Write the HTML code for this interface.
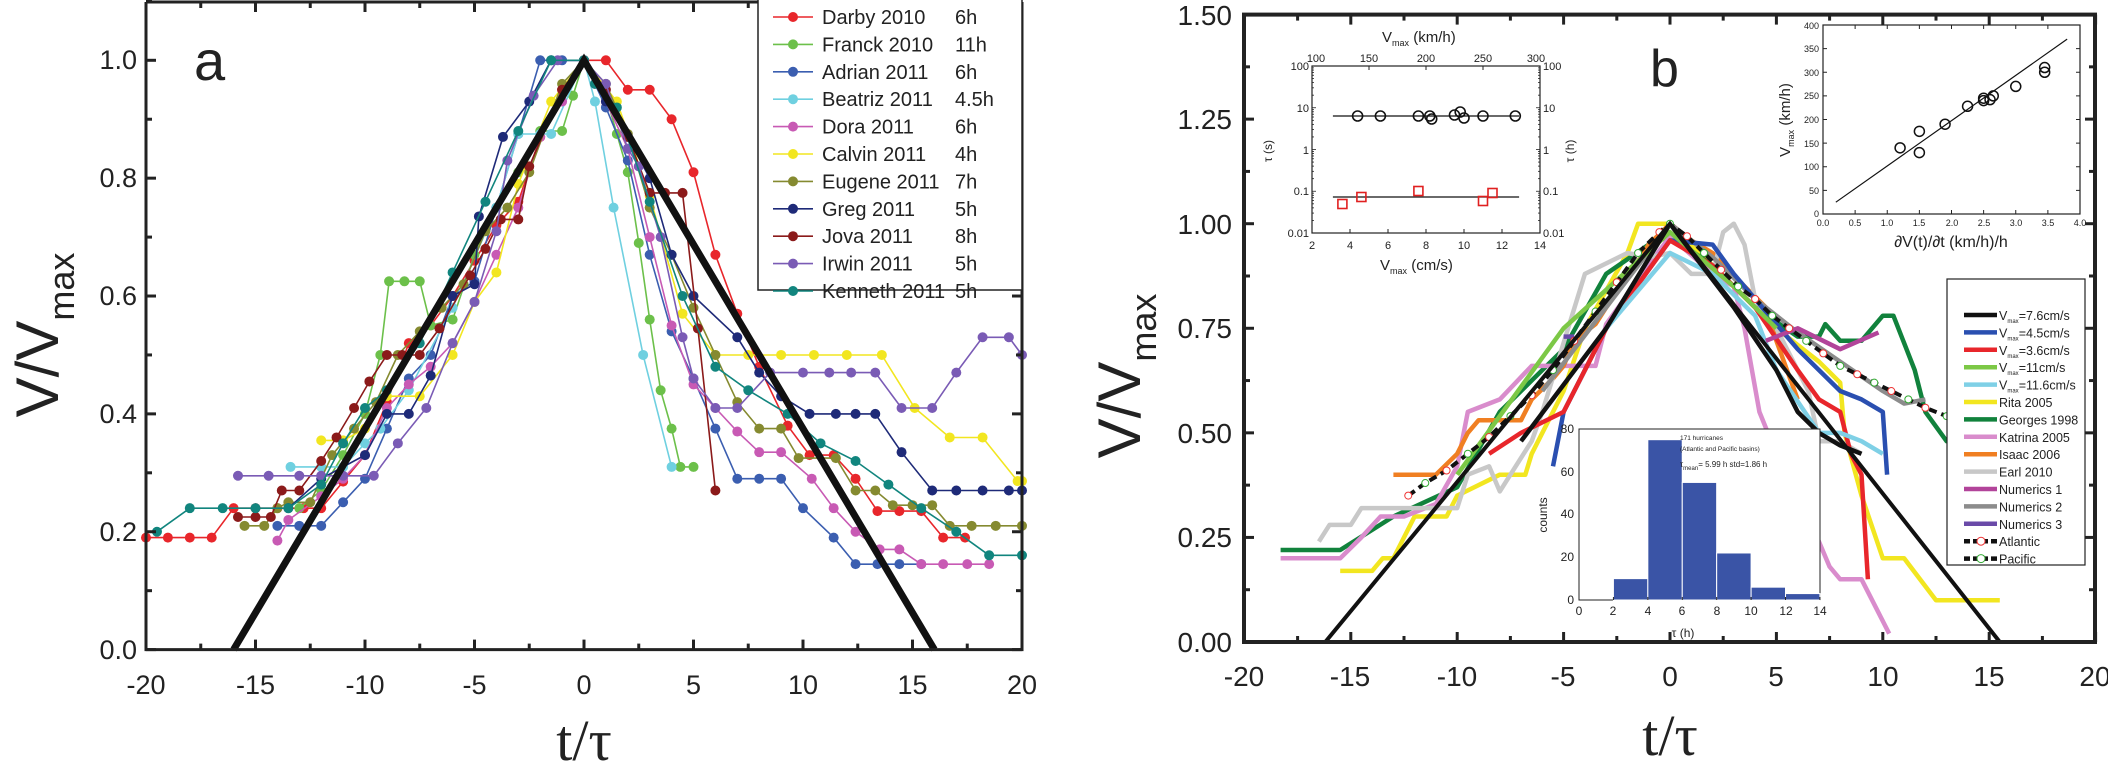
<!DOCTYPE html>
<html><head><meta charset="utf-8"><style>
html,body{margin:0;padding:0;background:#fff;}
svg{display:block;}
text{font-family:"Liberation Sans",sans-serif;fill:#222;}
.serif{font-family:"Liberation Serif",serif;}
</style></head><body>
<svg id="s" width="2108" height="763" viewBox="0 0 2108 763" xmlns="http://www.w3.org/2000/svg">
<rect width="2108" height="763" fill="#fff"/>
<g id="a-series"></g>
<g id="b-series"></g>
<!-- Panel a frame -->
<g stroke="#222" stroke-width="3" fill="none">
<polyline points="146,2 146,649.6 1022,649.6 1022,2"/>
<line x1="146" y1="2" x2="1022" y2="2"/>
</g>
<g id="a-ticks" stroke="#222" stroke-width="3"></g>
<g font-size="27" text-anchor="end">
<text x="137" y="659">0.0</text><text x="137" y="541">0.2</text><text x="137" y="423">0.4</text>
<text x="137" y="305">0.6</text><text x="137" y="187">0.8</text><text x="137" y="69">1.0</text>
</g>
<g font-size="27" text-anchor="middle">
<text x="146" y="694">-20</text><text x="255.5" y="694">-15</text><text x="365" y="694">-10</text>
<text x="474.5" y="694">-5</text><text x="584" y="694">0</text><text x="693.5" y="694">5</text>
<text x="803" y="694">10</text><text x="912.5" y="694">15</text><text x="1022" y="694">20</text>
</g>
<text x="194" y="80" font-size="56">a</text>
<text class="serif" x="584" y="760" font-size="58" text-anchor="middle">t/τ</text>
<g transform="translate(58,335) rotate(-90)"><text font-size="60" text-anchor="middle">V/V<tspan font-size="36" dy="16">max</tspan></text></g>
<!-- legend a -->
<rect x="758" y="-2" width="264" height="292" fill="#fff" stroke="#222" stroke-width="1.5"/>
<g id="a-legend" font-size="20"></g>

<!-- Panel b frame -->
<g stroke="#222" stroke-width="4" fill="none">
<rect x="1244" y="14.6" width="851" height="627.4"/>
</g>
<g id="b-ticks" stroke="#222" stroke-width="3"></g>
<g font-size="28" text-anchor="end">
<text x="1232" y="652">0.00</text><text x="1232" y="547">0.25</text><text x="1232" y="443">0.50</text>
<text x="1232" y="338">0.75</text><text x="1232" y="234">1.00</text><text x="1232" y="129">1.25</text><text x="1232" y="25">1.50</text>
</g>
<g font-size="28" text-anchor="middle">
<text x="1244" y="686">-20</text><text x="1350" y="686">-15</text><text x="1457" y="686">-10</text>
<text x="1563" y="686">-5</text><text x="1670" y="686">0</text><text x="1776" y="686">5</text>
<text x="1883" y="686">10</text><text x="1989" y="686">15</text><text x="2095" y="686">20</text>
</g>
<text x="1650" y="86" font-size="52">b</text>
<text class="serif" x="1670" y="755" font-size="58" text-anchor="middle">t/τ</text>
<g transform="translate(1140,376) rotate(-90)"><text font-size="60" text-anchor="middle">V/V<tspan font-size="36" dy="16">max</tspan></text></g>

<!-- inset top-left -->
<rect x="1312" y="66" width="228" height="167" fill="#fff" stroke="#222" stroke-width="1.2"/>
<g id="inset1"></g>
<g font-size="11" text-anchor="middle">
<text x="1316" y="62">100</text><text x="1369" y="62">150</text>
<text x="1426" y="62">200</text><text x="1483" y="62">250</text><text x="1536" y="62">300</text>
</g>
<g font-size="11" text-anchor="end">
<text x="1309" y="70">100</text><text x="1309" y="112">10</text><text x="1309" y="154">1</text><text x="1309" y="195">0.1</text><text x="1309" y="237">0.01</text>
</g>
<g font-size="11">
<text x="1543" y="70">100</text><text x="1543" y="112">10</text><text x="1543" y="154">1</text><text x="1543" y="195">0.1</text><text x="1543" y="237">0.01</text>
</g>
<g font-size="11" text-anchor="middle">
<text x="1312" y="249">2</text><text x="1350" y="249">4</text><text x="1388" y="249">6</text><text x="1426" y="249">8</text>
<text x="1464" y="249">10</text><text x="1502" y="249">12</text><text x="1540" y="249">14</text>
</g>
<text x="1382" y="42" font-size="15">V<tspan font-size="9" dy="4">max</tspan><tspan dy="-4"> (km/h)</tspan></text>
<text x="1380" y="270" font-size="15">V<tspan font-size="9" dy="4">max</tspan><tspan dy="-4"> (cm/s)</tspan></text>
<g transform="translate(1272,151) rotate(-90)"><text font-size="12" text-anchor="middle">τ (s)</text></g>
<g transform="translate(1574,151) rotate(-90)"><text font-size="12" text-anchor="middle">τ (h)</text></g>

<!-- inset top-right -->
<rect x="1823" y="25" width="257" height="189" fill="#fff" stroke="#222" stroke-width="1.2"/>
<g id="inset2"></g>
<g font-size="9" text-anchor="end">
<text x="1819" y="217">0</text><text x="1819" y="194">50</text><text x="1819" y="170">100</text><text x="1819" y="147">150</text>
<text x="1819" y="123">200</text><text x="1819" y="99">250</text><text x="1819" y="76">300</text><text x="1819" y="52">350</text><text x="1819" y="29">400</text>
</g>
<g font-size="9" text-anchor="middle">
<text x="1823" y="226">0.0</text><text x="1855" y="226">0.5</text><text x="1887" y="226">1.0</text><text x="1919" y="226">1.5</text>
<text x="1952" y="226">2.0</text><text x="1984" y="226">2.5</text><text x="2016" y="226">3.0</text><text x="2048" y="226">3.5</text><text x="2080" y="226">4.0</text>
</g>
<text x="1951" y="247" font-size="16" text-anchor="middle">∂V(t)/∂t    (km/h)/h</text>
<g transform="translate(1790,120) rotate(-90)"><text font-size="15" text-anchor="middle">V<tspan font-size="9" dy="4">max</tspan><tspan dy="-4">  (km/h)</tspan></text></g>

<!-- legend b -->
<rect x="1947" y="279" width="138" height="286" fill="#fff" stroke="#222" stroke-width="1.2"/>
<g id="b-legend" font-size="12.5"></g>

<!-- histogram inset -->
<rect x="1579" y="429" width="241" height="171" fill="#fff" stroke="#222" stroke-width="1"/>
<g id="hist"></g>
<g font-size="12" text-anchor="end">
<text x="1574" y="604">0</text><text x="1574" y="561">20</text><text x="1574" y="518">40</text><text x="1574" y="476">60</text><text x="1574" y="433">80</text>
</g>
<g font-size="12" text-anchor="middle">
<text x="1579" y="615">0</text><text x="1613" y="615">2</text><text x="1648" y="615">4</text><text x="1682" y="615">6</text>
<text x="1717" y="615">8</text><text x="1751" y="615">10</text><text x="1786" y="615">12</text><text x="1820" y="615">14</text>
</g>
<text x="1683" y="637" font-size="12" text-anchor="middle">τ (h)</text>
<g transform="translate(1547,515) rotate(-90)"><text font-size="12" text-anchor="middle">counts</text></g>
<text x="1680" y="440" font-size="6.5">171 hurricanes</text>
<text x="1680" y="451" font-size="6.5">(Atlantic and Pacific basins)</text>
<text x="1680" y="467" font-size="8">τ<tspan font-size="6" dy="3">mean</tspan><tspan dy="-3">= 5.99 h    std=1.86 h</tspan></text>
</svg>
<script>
var NS="http://www.w3.org/2000/svg";
function el(p,t,a){var e=document.createElementNS(NS,t);for(var k in a)e.setAttribute(k,a[k]);p.appendChild(e);return e;}
function ax(x){return 584+x*21.9} function ay(y){return 649.6-y*589.3}
function bx(x){return 1670+x*21.28} function by(y){return 642-y*418.3}
function pts(d,fx,fy){return d.map(function(p){return fx(p[0]).toFixed(1)+","+fy(p[1]).toFixed(1)}).join(" ")}
var A=[
["Darby 2010","6h","#e8262b",[[-20,.19],[-19,.19],[-18,.19],[-17,.19],[-16,.24],[-15,.24],[-14,.24],[-12.8,.24],[-12,.24],[-11,.285],[-10,.33],[-9,.42],[-8,.52],[-7,.55],[-6,.6],[-5,.66],[-4,.72],[-3,.76],[-2,.87],[-1,.95],[0,1],[1,1],[2,.95],[3,.95],[4,.9],[5,.81],[6,.67],[7,.57],[8,.48],[9.3,.38],[10.3,.33],[11.4,.33],[12.4,.29],[13.4,.235],[14.4,.235],[15.4,.235],[16.4,.19],[17.4,.19]]],
["Franck 2010","11h","#6cc04a",[[-13,.24],[-12,.27],[-11,.33],[-10,.4],[-9.3,.5],[-8.9,.625],[-8.2,.625],[-7.5,.625],[-7,.55],[-6,.56],[-5,.67],[-4,.75],[-3,.81],[-2,.88],[-1,.88],[-.5,.94],[0,1],[1,.94],[1.5,.875],[2,.81],[2.5,.69],[3,.56],[3.5,.44],[4,.375],[4.4,.31],[5,.31]]],
["Adrian 2011","6h","#3b5eb0",[[-14,.21],[-13,.21],[-12,.21],[-11,.25],[-10,.29],[-9,.375],[-8,.46],[-7,.5],[-6,.6],[-5,.625],[-4,.75],[-3,.875],[-2,1],[-1,1],[0,1],[1,.92],[2,.83],[3,.67],[4,.54],[5,.46],[6,.375],[7,.29],[8,.29],[9,.29],[10,.24],[11.4,.19],[12.4,.145],[13.4,.145],[14.4,.145],[15.4,.145]]],
["Beatriz 2011","4.5h","#6fd0e0",[[-13.4,.31],[-12,.31],[-11,.31],[-10,.35],[-9.3,.375],[-8,.44],[-6,.58],[-4,.75],[-3,.875],[-2,.875],[-1.5,.875],[0,1],[.5,.93],[1.35,.75],[2.7,.5],[4,.31]]],
["Dora 2011","6h","#c85ab4",[[-14,.185],[-13.5,.22],[-12,.26],[-11,.29],[-10,.33],[-9,.41],[-8,.45],[-7,.48],[-6,.52],[-5,.59],[-4,.67],[-3,.75],[-2,.87],[-1,.93],[0,1],[.5,.96],[1,.93],[2,.85],[3,.7],[4,.55],[5,.45],[6,.41],[7,.37],[8,.335],[9,.335],[10.4,.29],[11.4,.24],[12.4,.2],[13.5,.17],[14.4,.17],[15.4,.145],[16.4,.145],[17.5,.145],[18.5,.145]]],
["Calvin 2011","4h","#f2e620",[[-12,.355],[-11,.355],[-10,.375],[-9,.43],[-7.5,.43],[-6,.5],[-5,.59],[-4,.64],[-3,.79],[-1.5,.93],[0,1],[1.5,.93],[3,.77],[4.5,.57],[6,.5],[7.5,.5],[9,.5],[10.5,.5],[12,.5],[13.6,.5],[15.1,.41],[16.7,.36],[18.2,.36],[19.8,.286],[20,.286]]],
["Eugene 2011","7h","#858a30",[[-15.5,.21],[-14.6,.21],[-14,.24],[-13.5,.25],[-12.5,.25],[-11.5,.33],[-10.5,.375],[-9.5,.42],[-8.5,.5],[-7.5,.54],[-6.5,.58],[-5.5,.62],[-4.5,.71],[-3.5,.75],[-2.5,.81],[-1,.96],[0,1],[1,.96],[2,.875],[3,.75],[4,.67],[5,.58],[6,.5],[7,.42],[8,.375],[9,.375],[9.8,.325],[11.5,.325],[12.4,.27],[13.3,.27],[14.1,.245],[15,.245],[15.9,.245],[16.7,.21],[17.7,.21],[18.8,.21],[20,.21]]],
["Greg 2011","5h","#1e2a78",[[-13.5,.24],[-12,.29],[-10,.33],[-9,.4],[-8,.4],[-7,.465],[-6,.6],[-5,.62],[-4.8,.735],[-3.7,.87],[-2.5,.93],[-1.5,1],[0,1],[1,.93],[2,.87],[3,.8],[4,.67],[5,.6],[7,.53],[8,.47],[9,.43],[10.3,.4],[11.5,.4],[12.4,.4],[13.3,.4],[14.5,.335],[15.9,.27],[17,.27],[18.2,.27],[19.4,.27],[20,.27]]],
["Jova 2011","8h","#8b1a1a",[[-15.8,.225],[-15,.225],[-14.3,.225],[-13.8,.27],[-13,.27],[-12,.32],[-11.3,.36],[-10.5,.41],[-9.8,.455],[-9,.5],[-8.3,.5],[-7.5,.5],[-6.6,.545],[-5.2,.635],[-4.5,.68],[-3.8,.73],[-3,.73],[-2.5,.82],[-1,.95],[0,1],[1,.95],[2,.87],[3,.775],[3.7,.775],[4.5,.775],[5.2,.545],[6,.27]]],
["Irwin 2011","5h","#7a5bb5",[[-15.8,.295],[-14.4,.295],[-13,.295],[-12,.295],[-11,.295],[-9.6,.295],[-8.5,.35],[-7.2,.41],[-6,.52],[-5,.59],[-4,.71],[-3.5,.83],[-2.3,.94],[-1.2,1],[0,1],[1,.96],[2,.85],[2.5,.82],[3.5,.7],[4.5,.53],[5,.46],[6,.41],[7,.41],[8.5,.47],[10,.47],[11.2,.47],[12.2,.47],[13.3,.47],[14.5,.41],[15.9,.41],[17,.47],[18.2,.53],[19.4,.53],[20,.5]]],
["Kenneth 2011","5h","#11857e",[[-19.5,.2],[-18,.24],[-16.5,.24],[-15,.24],[-13.5,.24],[-12,.28],[-11,.35],[-10,.41],[-9,.44],[-7.5,.52],[-6,.64],[-4.5,.76],[-3,.88],[-1.5,1],[0,1],[.5,.96],[1.5,.92],[3,.76],[4.5,.6],[6,.48],[7.5,.44],[9.3,.4],[10.8,.35],[12.4,.32],[13.9,.28],[15.4,.24],[17,.2],[18.5,.16],[20,.16]]]
];
var ga=document.getElementById("a-series");
A.forEach(function(s){
  el(ga,"polyline",{points:pts(s[3],ax,ay),fill:"none",stroke:s[2],"stroke-width":1.6});
  s[3].forEach(function(p){el(ga,"circle",{cx:ax(p[0]),cy:ay(p[1]),r:5,fill:s[2]});});
});
el(ga,"polyline",{points:pts([[-16,0],[0,1],[16,0]],ax,ay),fill:"none",stroke:"#111","stroke-width":7,"stroke-linejoin":"miter"});
var gl=document.getElementById("a-legend");
A.forEach(function(s,i){var y=17+i*27.4;
  el(gl,"line",{x1:773,y1:y,x2:813,y2:y,stroke:s[2],"stroke-width":1.6});
  el(gl,"circle",{cx:793,cy:y,r:5,fill:s[2]});
  var t=el(gl,"text",{x:822,y:y+7});t.textContent=s[0];
  var h=el(gl,"text",{x:955,y:y+7});h.textContent=s[1];
});
var ta=document.getElementById("a-ticks");
for(var x=-20;x<=20;x+=2.5){var L=(x%5==0)?10:6;el(ta,"line",{x1:ax(x),y1:649.6,x2:ax(x),y2:649.6-L});el(ta,"line",{x1:ax(x),y1:2,x2:ax(x),y2:2+L});}
for(var y=0;y<=1.1;y+=0.1){var L=(Math.round(y*10)%2==0)?10:6;el(ta,"line",{x1:146,y1:ay(y),x2:146+L,y2:ay(y)});el(ta,"line",{x1:1022,y1:ay(y),x2:1022-L,y2:ay(y)});}
var B=[
["Rita 2005","#f2e620",[[-15.5,.17],[-14,.17],[-13.5,.2],[-13,.2],[-12.5,.25],[-12,.3],[-10.5,.3],[-10,.35],[-8,.4],[-6.8,.4],[-6.5,.45],[-5,.6],[-4,.75],[-2,.93],[-1.5,1],[0,1],[1,.95],[3,.85],[5,.75],[7,.67],[8,.62],[8.2,.5],[9,.35],[10,.2],[11,.2],[12.5,.1],[15.5,.1]]],
["Georges 1998","#11823c",[[-18.3,.22],[-15.5,.22],[-13,.3],[-10,.37],[-8,.55],[-7,.6],[-5,.7],[-3,.88],[-1,.95],[0,.97],[2,.9],[4,.8],[6,.73],[7,.73],[7.3,.76],[8,.72],[9,.72],[10,.78],[10.5,.78],[11.5,.65],[12,.55],[13,.48],[14,.48]]],
["Katrina 2005","#d98ccc",[[-18.3,.2],[-15.5,.2],[-14.5,.25],[-13.6,.3],[-12.5,.3],[-11,.33],[-10,.42],[-9.5,.55],[-8,.58],[-6.5,.66],[-3.5,.66],[-3,.76],[-2,.83],[-1,.9],[0,.97],[2,.88],[3,.85],[3.5,.75],[4.2,.55],[5,.45],[6,.37],[6.5,.3],[7.5,.18],[8,.15],[9,.15],[10.3,.02]]],
["Isaac 2006","#f07f22",[[-13,.4],[-11,.4],[-10,.45],[-9.5,.5],[-9,.53],[-7,.53],[-6.5,.58],[-5.5,.63],[-5,.66],[-4.5,.72],[-3.5,.76],[-3,.8],[-2,.87],[-1,.95],[0,1],[1,.96],[2,.93],[2.5,.9],[3.5,.85],[4.5,.8],[5,.72],[5.5,.65],[6,.58]]],
["Earl 2010","#c8c8c8",[[-16.5,.24],[-16,.28],[-15,.28],[-14.5,.32],[-12.5,.32],[-10,.32],[-9.5,.4],[-8.5,.42],[-8,.36],[-7,.44],[-6.5,.48],[-6,.55],[-4,.88],[-2,.93],[-1,.92],[0,.93],[1,.88],[2,.88],[2.5,.98],[3,1],[3.5,.95],[4,.82],[5,.75],[6.5,.6],[7,.48],[8,.48],[9,.45]]],
["Numerics 2","#8c8c8c",[[-6,.6],[-3,.8],[0,1],[2,.92],[4,.82],[6,.74],[8,.67],[10,.6],[11,.57],[12,.58]]],
["V4.5","#2a4fb0",[[-5.5,.42],[-5,.55],[-3,.75],[0,.96],[2,.95],[3,.88],[4,.82],[6,.7],[8,.6],[9,.58],[10,.55],[10.2,.4]]],
["V3.6","#e8262b",[[-8.5,.45],[-7,.5],[-5,.55],[-3,.75],[0,.96],[2,.9],[4,.8],[6,.65],[7,.58],[8,.55],[8.5,.45],[9,.4],[9.3,.15]]],
["V11.6","#7fd0e6",[[-3,.75],[0,.93],[2,.88],[4,.78],[5,.65],[7,.5],[8,.5],[9,.48],[10,.45]]],
["V11","#7cc846",[[-10,.4],[-5,.75],[0,.98],[3,.85],[5,.75]]],
["V7.6","#111",[[-7,.48],[-3,.75],[0,1],[3,.8],[5,.65],[6,.55],[7,.5],[8,.47],[9,.45]]],
["Numerics 1","#b2449a",[[4.5,.72],[6,.75],[8,.7],[9.8,.74]]],
["Numerics 3","#6a4aa8",[[-5,.73],[-4.5,.73]]]
];
var gb=document.getElementById("b-series");
B.forEach(function(s){el(gb,"polyline",{points:pts(s[2],bx,by),fill:"none",stroke:s[1],"stroke-width":4.5,"stroke-linejoin":"round"});});
var atl=[[-12.3,.35],[-11.5,.38],[-10.5,.41],[-9.5,.45],[-8.5,.49],[-7.5,.54],[-6.5,.59],[-5.5,.65],[-4.5,.72],[-3.5,.79],[-2.5,.86],[-1.5,.93],[-.5,.98],[0,1],[.8,.97],[1.6,.93],[2.4,.89],[3.2,.85],[4,.82],[4.8,.78],[5.6,.75],[6.4,.72],[7.2,.69],[8,.66],[8.8,.64],[9.6,.62],[10.4,.6],[11.2,.58],[12,.56],[13,.54]];
el(gb,"polyline",{points:pts(atl,bx,by),fill:"none",stroke:"#111","stroke-width":4,"stroke-dasharray":"8,5"});
atl.forEach(function(p,i){el(gb,"circle",{cx:bx(p[0]),cy:by(p[1]),r:3.5,fill:"#fff",stroke:i%2?"#3a3":"#e33","stroke-width":1});});
el(gb,"polyline",{points:pts([[-16.2,0],[0,1],[15.5,0]],bx,by),fill:"none",stroke:"#111","stroke-width":4});
var tb=document.getElementById("b-ticks");
for(var x=-20;x<=20;x+=2.5){var L=(x%5==0)?10:6;el(tb,"line",{x1:bx(x),y1:642,x2:bx(x),y2:642-L});el(tb,"line",{x1:bx(x),y1:14.6,x2:bx(x),y2:14.6+L});}
for(var y=0;y<=1.5;y+=0.125){var L=(Math.round(y*8)%2==0)?10:6;el(tb,"line",{x1:1244,y1:by(y),x2:1244+L,y2:by(y)});el(tb,"line",{x1:2095,y1:by(y),x2:2095-L,y2:by(y)});}
var LB=[["V","=7.6cm/s","#111"],["V","=4.5cm/s","#2a4fb0"],["V","=3.6cm/s","#e8262b"],["V","=11cm/s","#7cc846"],["V","=11.6cm/s","#7fd0e6"],["Rita 2005","","#f2e620"],["Georges 1998","","#11823c"],["Katrina 2005","","#d98ccc"],["Isaac 2006","","#f07f22"],["Earl 2010","","#c8c8c8"],["Numerics 1","","#b2449a"],["Numerics 2","","#8c8c8c"],["Numerics 3","","#6a4aa8"],["Atlantic","","#111"],["Pacific","","#111"]];
var lg=document.getElementById("b-legend");
LB.forEach(function(s,i){var y=315+i*17.4;
  el(lg,"line",{x1:1964,y1:y,x2:1997,y2:y,stroke:s[2],"stroke-width":4.5,"stroke-dasharray":i>=13?"6,3":"none"});
  if(i>=13)el(lg,"circle",{cx:1981,cy:y,r:4,fill:"#fff",stroke:i==13?"#e33":"#3a3"});
  var t=el(lg,"text",{x:1999,y:y+5});
  if(s[1]){t.appendChild(document.createTextNode("V"));var sp=el(t,"tspan",{"font-size":6,dy:3});sp.textContent="max";var sp2=el(t,"tspan",{dy:-3});sp2.textContent=s[1];}
  else t.textContent=s[0];
});
var g1=document.getElementById("inset1");
function i1x(v){return 1312+(v-2)*19} function i1y(t){return 233-(Math.log10(t)+2)*41.75}
for(var v=2;v<=14;v+=2){el(g1,"line",{x1:i1x(v),y1:233,x2:i1x(v),y2:229,stroke:"#222"});}
for(var v=0;v<=4;v++){var xx=1312+v*57;el(g1,"line",{x1:xx,y1:66,x2:xx,y2:70,stroke:"#222"});}
for(var d=-2;d<2;d++)for(var m=1;m<10;m++){var yy=i1y(m*Math.pow(10,d));var L=m==1?4:2;el(g1,"line",{x1:1312,y1:yy,x2:1312+L,y2:yy,stroke:"#222","stroke-width":.8});el(g1,"line",{x1:1540,y1:yy,x2:1540-L,y2:yy,stroke:"#222","stroke-width":.8});}
el(g1,"line",{x1:i1x(3.1),y1:116,x2:i1x(12.9),y2:116,stroke:"#111","stroke-width":1.2});
el(g1,"line",{x1:i1x(3.1),y1:197,x2:i1x(12.9),y2:197,stroke:"#111","stroke-width":1.2});
[[4.4,116],[5.6,116],[7.6,116],[8.2,116],[8.3,119],[9.5,115],[9.8,112],[10,118],[11,116],[12.7,116]].forEach(function(p){el(g1,"circle",{cx:i1x(p[0]),cy:p[1],r:5,fill:"none",stroke:"#111","stroke-width":1.6});});
[[3.6,204],[4.6,197],[7.6,191],[11,201],[11.5,193]].forEach(function(p){el(g1,"rect",{x:i1x(p[0])-4.5,y:p[1]-4.5,width:9,height:9,fill:"none",stroke:"#e02020","stroke-width":1.6});});
var g2=document.getElementById("inset2");
function i2x(v){return 1823+v*64.25} function i2y(v){return 214-v*0.4725}
for(var v=0;v<=4;v+=0.5){el(g2,"line",{x1:i2x(v),y1:214,x2:i2x(v),y2:210,stroke:"#222"});el(g2,"line",{x1:i2x(v),y1:25,x2:i2x(v),y2:29,stroke:"#222"});}
for(var v=0;v<=400;v+=50){el(g2,"line",{x1:1823,y1:i2y(v),x2:1827,y2:i2y(v),stroke:"#222"});el(g2,"line",{x1:2080,y1:i2y(v),x2:2076,y2:i2y(v),stroke:"#222"});}
el(g2,"line",{x1:i2x(.2),y1:i2y(25),x2:i2x(3.8),y2:i2y(370),stroke:"#111","stroke-width":1.2});
[[1.2,140],[1.5,175],[1.5,130],[1.9,190],[2.25,228],[2.5,245],[2.5,240],[2.6,242],[2.65,250],[3,270],[3.45,300],[3.45,310]].forEach(function(p){el(g2,"circle",{cx:i2x(p[0]),cy:i2y(p[1]),r:5,fill:"none",stroke:"#111","stroke-width":1.5});});
var gh=document.getElementById("hist");
[[2,10],[4,75],[6,55],[8,22],[10,6],[12,3]].forEach(function(b){var x=1579+b[0]*17.21,h=b[1]*2.1375;el(gh,"rect",{x:x,y:600-h,width:34.4,height:h,fill:"#3a54a6",stroke:"#fff","stroke-width":1});});
for(var v=0;v<=14;v+=2){el(gh,"line",{x1:1579+v*17.21,y1:600,x2:1579+v*17.21,y2:597,stroke:"#222"});}
</script>
</body></html>
